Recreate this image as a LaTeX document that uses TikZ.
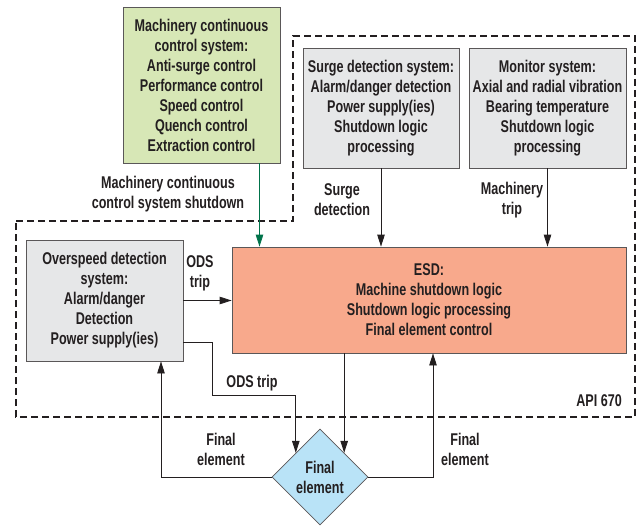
\documentclass[tikz,border=0pt]{standalone}
\usepackage{fontspec}
\setmainfont{Liberation Sans}[FakeStretch=0.74]
\usetikzlibrary{arrows.meta}
\usetikzlibrary{positioning}
\usetikzlibrary{shapes.geometric}
\definecolor{ccsgreen}{HTML}{D7E7B6}
\definecolor{sysgray}{HTML}{E6E7E8}
\definecolor{esdsalmon}{HTML}{F8A98C}
\definecolor{feblue}{HTML}{B9E3F7}
\definecolor{arrgreen}{HTML}{00734A}
\definecolor{ink}{HTML}{231F20}
\tikzset{
	>={Triangle[length=12pt,width=7.5pt]},
	sysbox/.style={
		rectangle,
		fill=sysgray,
		draw=ink!75, thick,
		inner sep=0pt,
		align=center,
		text=ink},
	esdbox/.style={
		sysbox,
		fill=esdsalmon},
	finalel/.style={
		diamond,
		aspect=1,
		fill=feblue,
		draw=ink!75, thick,
		inner sep=0pt,
		minimum size=96pt,
		align=center,
		text=ink},
	line/.style={draw=ink, thick, ->},
	lbl/.style={align=center, text=ink, inner sep=0pt},
	boundary/.style={draw=ink, line width=1.8pt, dash pattern=on 7pt off 4pt},
}

\begin{document}
\begin{tikzpicture}
			[x=1pt, y=-1pt,
			font=\fontsize{17}{20}\selectfont\bfseries]
			\useasboundingbox (0,0) rectangle (641,527);
			% API 670 boundary
			\draw[boundary] (16,221) -- (293,221) -- (293,36) -- (635,36) -- (635,417) -- (16,417) -- cycle;
			
			\node[sysbox, fill=ccsgreen, minimum width=157pt, minimum height=156pt] (mccs) at (201.5,85)
				{Machinery continuous\\control system:\\Anti-surge control\\Performance control\\Speed control\\Quench control\\Extraction control};
			\node[sysbox, minimum width=156pt, minimum height=120pt] (surge) at (381,108)
				{Surge detection system:\\Alarm/danger detection\\Power supply(ies)\\Shutdown logic\\processing};
			\node[sysbox, minimum width=157pt, minimum height=120pt] (monitor) at (547.5,108)
				{Monitor system:\\Axial and radial vibration\\Bearing temperature\\Shutdown logic\\processing};
			\node[esdbox, minimum width=394pt, minimum height=106pt] (esd) at (429,300)
				{ESD:\\Machine shutdown logic\\Shutdown logic processing\\Final element control};
			\node[sysbox, minimum width=157pt, minimum height=121pt] (ods) at (104.5,300.5)
				{Overspeed detection\\system:\\Alarm/danger\\Detection\\Power supply(ies)};
			\node[finalel] (fe) at (320,477) {Final\\element};
			
			% connectors
			\draw[line, draw=arrgreen, -{Triangle[length=12pt,width=7.5pt,fill=arrgreen]}] ([xshift=58pt]mccs.south) -- ([xshift=58pt]mccs.south |- esd.north);
			\draw[line] (surge.south) -- (surge.south |- esd.north);
			\draw[line] (monitor.south) -- (monitor.south |- esd.north);
			\draw[line] (ods.east) -- (ods.east -| esd.west);
			\draw[line] ([yshift=19pt]ods.south east) -| (212,395) -| (fe.north west);
			\draw[line] (esd.south -| fe.north east) -- (fe.north east);
			\draw[line] (fe.east) -| ([xshift=4pt]esd.south);
			\draw[line] (fe.west) -| ([xshift=56.5pt]ods.south);
			
			% labels
			\node[lbl] (lshut) at (168,194) {Machinery continuous\\control system shutdown};
			\node[lbl] (lsurge) at (342,200) {Surge\\detection};
			\node[lbl] (ltrip) at (512,200) {Machinery\\trip};
			\node[lbl] (lods) at (200,273) {ODS\\trip};
			\node[lbl] (lods2) at (252,383) {ODS trip};
			\node[lbl] (lfel) at (221,449) {Final\\element};
			\node[lbl] (lfer) at (465,449) {Final\\element};
			\node[lbl, anchor=east] (lapi) at (622,401) {API 670};
			
			\end{tikzpicture}
\end{document}
